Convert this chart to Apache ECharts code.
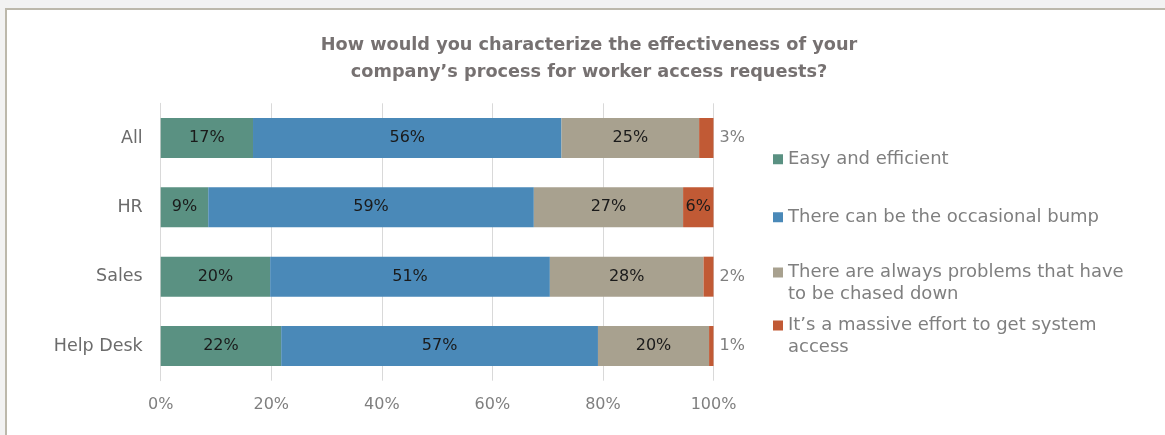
<!DOCTYPE html>
<html>
<head>
<meta charset="utf-8">
<script src="https://cdn.jsdelivr.net/npm/echarts@6/dist/echarts.min.js"></script>
<style>
  html, body { margin: 0; padding: 0; background: #f2f2f2; width: 1165px; height: 435px; overflow: hidden; }
  #frame { position: absolute; left: 5px; top: 8px; width: 1160px; height: 427px;
           border-left: 2px solid #bcb8ab; border-top: 2px solid #bcb8ab; background: #ffffff; }
  #chart { width: 1158px; height: 425px; }
</style>
</head>
<body>
<div id="frame"><div id="chart"></div></div>
<script>
// Survey answers by group (percent of respondents)
const categories = ['All', 'HR', 'Sales', 'Help Desk'];
const seriesNames = [
  'Easy and efficient',
  'There can be the occasional bump',
  'There are always problems that have to be chased down',
  'It\u2019s a massive effort to get system access'
];
const legendLabels = [
  'Easy and efficient',
  'There can be the occasional bump',
  'There are always problems that have\nto be chased down',
  'It\u2019s a massive effort to get system\naccess'
];
const easyEfficient = [16.7, 8.6, 19.8, 21.8];
const occasionalBump = [55.8, 58.9, 50.6, 57.3];
const alwaysProblems = [24.9, 27.0, 27.8, 20.1];
const massiveEffort = [2.6, 5.5, 1.8, 0.8];
const xTicks = [0, 20, 40, 60, 80, 100];

const colors = ['#5a9182', '#4a89b8', '#a8a18f', '#c15a35'];
const FONT = 'DejaVu Sans';

const chart = echarts.init(document.getElementById('chart'));

function pct(v) { return Math.round(v) + '%'; }

const values = [easyEfficient, occasionalBump, alwaysProblems, massiveEffort];

const series = values.map((arr, si) => ({
  name: seriesNames[si],
  type: 'bar',
  stack: 'total',
  barWidth: 40,
  itemStyle: { color: colors[si] },
  label: {
    show: true,
    position: 'inside',
    color: '#1a1a1a',
    fontFamily: FONT,
    fontSize: 16,
    formatter: p => pct(p.value)
  },
  data: arr.map(v => {
    // thin end segments get their label outside the bar
    if (si === 3 && v < 4) {
      return { value: v, label: { position: 'right', distance: 6, color: '#7f7f7f' } };
    }
    return v;
  })
}));

// square marker pinned to the top of the item box, so it sits beside the first text line
const SQUARE_TOP = 'path://M0,0h10v10h-10zM0,31.95h0.05v0.05h-0.05z';

// legend entries: one block per series, stacked down the right side
const legendTops = [138, 196, 251, 304];
const legends = seriesNames.map((name, i) => {
  const twoLine = legendLabels[i].indexOf('\n') >= 0;
  return {
    orient: 'vertical',
    left: 766,
    top: legendTops[i],
    padding: 0,
    itemWidth: 10,
    itemHeight: twoLine ? 32 : 10,
    icon: twoLine ? SQUARE_TOP : 'rect',
    itemStyle: { borderWidth: 0 },
    selectedMode: false,
    data: [name],
    formatter: () => legendLabels[i],
    textStyle: {
      color: '#7f7f7f',
      fontFamily: FONT,
      fontSize: 18,
      lineHeight: 22.5
    }
  };
});

chart.setOption({
  animation: false,
  color: colors,
  title: {
    text: 'How would you characterize the effectiveness of your\ncompany\u2019s process for worker access requests?',
    left: 582,
    top: 22,
    padding: 0,
    textAlign: 'center',
    textStyle: {
      color: '#767171',
      fontFamily: FONT,
      fontSize: 17.7,
      fontWeight: 'bold',
      lineHeight: 27
    }
  },
  legend: legends,
  grid: { left: 153.7, right: 451.5, top: 93.3, bottom: 54.3, containLabel: false },
  xAxis: {
    type: 'value',
    min: xTicks[0],
    max: xTicks[xTicks.length - 1],
    interval: 20,
    axisLine: { show: false },
    axisTick: { show: false },
    splitLine: { show: true, lineStyle: { color: '#d9d9d9', width: 1 } },
    axisLabel: {
      margin: 16,
      color: '#7f7f7f',
      fontFamily: FONT,
      fontSize: 16,
      formatter: v => v + '%'
    }
  },
  yAxis: {
    type: 'category',
    inverse: true,
    data: categories,
    axisLine: { show: true, lineStyle: { color: '#d9d9d9', width: 1 } },
    axisTick: { show: false },
    axisLabel: {
      margin: 18,
      color: '#6b6b6b',
      fontFamily: FONT,
      fontSize: 17.5
    }
  },
  series: series
});
</script>
</body>
</html>
